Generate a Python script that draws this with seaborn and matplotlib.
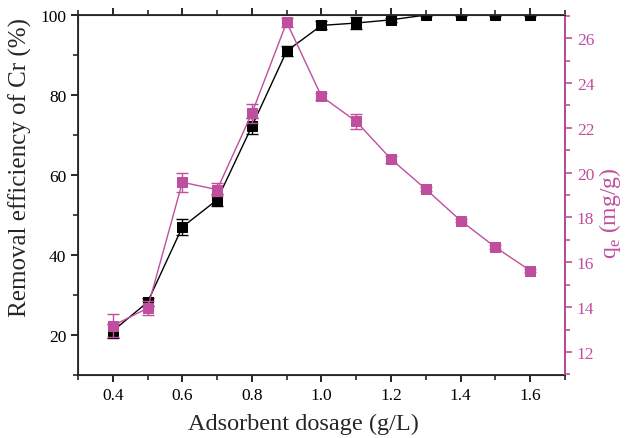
import numpy as np
import pandas as pd
import seaborn as sns
import matplotlib
import matplotlib.pyplot as plt
from matplotlib.ticker import MultipleLocator

matplotlib.use('Agg')

# data
dosage = [0.4, 0.5, 0.6, 0.7, 0.8, 0.9, 1.0, 1.1, 1.2, 1.3, 1.4, 1.5, 1.6]
removal = [21.0, 28.2, 47.0, 53.8, 72.2, 91.0, 97.4, 98.0, 98.8, 100.0, 100.0, 100.0, 100.0]
removal_err = [1.8, 1.0, 2.0, 1.5, 2.0, 1.2, 1.0, 1.5, 0.5, 0.3, 0.3, 0.3, 0.3]
qe = [13.17, 13.95, 19.57, 19.24, 22.65, 26.71, 23.40, 22.28, 20.60, 19.26, 17.86, 16.67, 15.63]
qe_err = [0.5, 0.3, 0.42, 0.3, 0.42, 0.2, 0.15, 0.33, 0.15, 0.1, 0.08, 0.08, 0.08]

PINK = "#c04e9f"

sns.set_style("ticks")
plt.rcParams['font.family'] = ['Liberation Serif', 'DejaVu Serif']

df = pd.DataFrame({"dosage": dosage, "removal": removal, "qe": qe})

fig = plt.figure(figsize=(6.27, 4.39), dpi=100)
ax = fig.add_axes([0.1244, 0.1435, 0.7767, 0.82])

# left axis: removal efficiency
ax.errorbar(dosage, removal, yerr=removal_err, fmt='none', ecolor='black',
            elinewidth=1, capsize=4, capthick=1, zorder=2)
sns.lineplot(data=df, x="dosage", y="removal", ax=ax, color='black', lw=1,
             marker='s', markersize=6.5, markeredgecolor='black', zorder=3)

ax.set_xlim(0.3, 1.7)
ax.set_ylim(10, 100)
ax.set_xticks([0.4, 0.6, 0.8, 1.0, 1.2, 1.4, 1.6])
ax.set_xticklabels(["0.4", "0.6", "0.8", "1.0", "1.2", "1.4", "1.6"])
ax.xaxis.set_minor_locator(MultipleLocator(0.1))
ax.set_yticks([20, 40, 60, 80, 100])
ax.yaxis.set_minor_locator(MultipleLocator(10))
ax.tick_params(axis='both', which='major', direction='out', length=5, width=1.2,
               labelsize=12.5, colors='black')
ax.tick_params(axis='both', which='minor', direction='out', length=3.5, width=1.2)
ax.tick_params(axis='x', which='both', top=True, length=2)
ax.tick_params(axis='x', which='both', bottom=True, length=5)
ax.tick_params(axis='x', which='minor', bottom=True, length=3.5)
for s in ax.spines.values():
    s.set_linewidth(1.3)
ax.set_xlabel("Adsorbent dosage (g/L)", fontsize=17.5)
ax.xaxis.set_label_coords(0.462, -0.105)
ax.set_ylabel("Removal efficiency of Cr (%)", fontsize=18)
ax.yaxis.set_label_coords(-0.094, 0.58)

# right axis: adsorption capacity
ax2 = ax.twinx()
ax2.errorbar(dosage, qe, yerr=qe_err, fmt='none', ecolor=PINK,
             elinewidth=1, capsize=4, capthick=1, zorder=2)
sns.lineplot(data=df, x="dosage", y="qe", ax=ax2, color=PINK, lw=1,
             marker='s', markersize=6.5, markeredgecolor=PINK, zorder=3)
ax2.set_ylim(10.97, 27.03)
ax2.set_yticks([12, 14, 16, 18, 20, 22, 24, 26])
ax2.yaxis.set_minor_locator(MultipleLocator(1))
ax2.tick_params(axis='y', which='major', direction='out', length=5, width=1.2,
                labelsize=12.5, colors=PINK)
ax2.tick_params(axis='y', which='minor', direction='out', length=3.5, width=1.2,
                colors=PINK)
ax2.spines['right'].set_color(PINK)
ax2.spines['right'].set_linewidth(1.3)
ax2.set_ylabel(r"q$_\mathregular{e}$ (mg/g)", fontsize=17, color=PINK)
ax2.yaxis.set_label_coords(1.066, 0.453)
ax2.set_xlabel("")

fig.savefig("out.png", dpi=100)
